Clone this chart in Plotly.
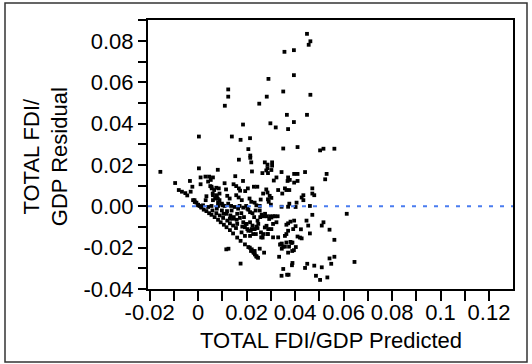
import plotly.graph_objects as go

# Predicted values (x) and residuals (y)
pred = [
    0.0449, 0.0463, 0.0456, 0.0356, 0.0395, 0.0395, 0.0290, 0.0124, 0.0124, 0.0110,
    0.0351, 0.0283, 0.0252, 0.0463, 0.0366, 0.0449,
    0.0185, 0.0298, 0.0320, 0.0371, 0.0395, 0.0003, 0.0139, 0.0175, 0.0214, 0.0207,
    0.0351, 0.0410, 0.0503, 0.0517, 0.0562,
    0.0215, 0.0215, 0.0168, 0.0219, 0.0275, 0.0286, 0.0305, 0.0305, 0.0281, 0.0286,
    0.0302, 0.0265, 0.0288, 0.0222, 0.0344, 0.0371, 0.0369, 0.0323, 0.0312, 0.0153,
    0.0185, 0.0081, 0.0109,
    0.0146, 0.0157, 0.0168, 0.0173, 0.0115, 0.0205, 0.0194, 0.0230, 0.0244, 0.0281,
    0.0286, 0.0268, 0.0295, 0.0302, 0.0288, 0.0291, 0.0300, 0.0258, 0.0330, 0.0347,
    0.0358, 0.0364, 0.0085, 0.0088, 0.0081, 0.0120, 0.0130, 0.0157, 0.0167, 0.0180,
    0.0212, 0.0219, 0.0233, 0.0240, 0.0254, 0.0198, 0.0171, 0.0109, 0.0136, 0.0344,
    0.0371,
    0.0396, 0.0410, 0.0441, 0.0530, 0.0524, 0.0378, 0.0396, 0.0410, 0.0376, 0.0471,
    0.0471, 0.0479, 0.0434, 0.0427, 0.0434, 0.0406, 0.0376, 0.0461, 0.0402,
    0.0003, 0.0010, 0.0061, 0.0052, 0.0041, -0.0034, -0.0095, 0.0010, -0.0024, -0.0080,
    -0.0067, -0.0053, -0.0045, -0.0031, 0.0055, 0.0075, 0.0061, 0.0075, 0.0034, -0.0015,
    -0.0007, 0.0000, 0.0006, 0.0013, 0.0031, 0.0061, 0.0082, 0.0082, -0.0156, 0.0055,
    -0.0021, -0.0014,
    0.0613, 0.0471, 0.0447, 0.0517, 0.0510, 0.0542, 0.0454, 0.0461, 0.0562, 0.0424,
    0.0420, 0.0427, 0.0410, 0.0396, 0.0381, 0.0371, 0.0364, 0.0402, 0.0392, 0.0403,
    0.0388, 0.0395, 0.0381, 0.0389, 0.0371, 0.0334, 0.0389, 0.0387, 0.0450, 0.0441,
    0.0479, 0.0510, 0.0542, 0.0562, 0.0549, 0.0645, 0.0486, 0.0503, 0.0533, 0.0351,
    0.0344, 0.0367, 0.0373,
    0.0237, 0.0254, 0.0262, 0.0276, 0.0270, 0.0283, 0.0297, 0.0310, 0.0293, 0.0302,
    0.0316, 0.0328, 0.0275, 0.0289, 0.0285, 0.0282, 0.0240, 0.0233, 0.0248, 0.0330,
    0.0358, 0.0364, 0.0338, 0.0345, 0.0358, 0.0385, 0.0345, 0.0375,
    0.0254, 0.0272, 0.0233, 0.0240, 0.0247,
    0.0268, 0.0260, 0.0288, 0.0309, 0.0340, 0.0351, 0.0364, 0.0371, 0.0302, 0.0323,
    0.0309,
    0.0000, 0.0013, 0.0023, 0.0034, 0.0045, 0.0055, 0.0068, 0.0082, 0.0093, 0.0106,
    0.0117, 0.0131, 0.0144, 0.0161, 0.0175, 0.0193, 0.0207, 0.0221, 0.0227,
    0.0020, 0.0041, 0.0059, 0.0075, 0.0089, 0.0103, 0.0120, 0.0131, 0.0144, 0.0156,
    0.0125, 0.0175,
    0.0117, 0.0138, 0.0151, 0.0165, 0.0186, 0.0207, 0.0214, 0.0131, 0.0144, 0.0159,
    0.0172, 0.0186, 0.0200, 0.0214, 0.0193, 0.0207, 0.0221, 0.0179, 0.0214, 0.0193,
    0.0227, 0.0100, 0.0124,
    0.0213, 0.0218, 0.0229, 0.0234, 0.0241, 0.0116,
    0.0030, 0.0045, 0.0050, 0.0056, 0.0066, 0.0060, 0.0077, 0.0070, 0.0088, 0.0098,
    0.0077, 0.0098, 0.0105, 0.0119, 0.0133, 0.0147, 0.0161, 0.0178, 0.0189, 0.0203,
    0.0224, 0.0231, 0.0245, 0.0256,
    0.0161, 0.0182, 0.0196, 0.0203, 0.0217, 0.0224, 0.0238, 0.0245, 0.0259, 0.0266,
]
resid = [
    0.0835, 0.0799, 0.0782, 0.0748, 0.0756, 0.0635, 0.0617, 0.0566, 0.0531, 0.0487,
    0.0556, 0.0531, 0.0497, 0.0540, 0.0443, 0.0443,
    0.0396, 0.0402, 0.0382, 0.0374, 0.0408, 0.0338, 0.0338, 0.0322, 0.0330, 0.0277,
    0.0280, 0.0287, 0.0271, 0.0279, 0.0279,
    0.0246, 0.0235, 0.0226, 0.0213, 0.0213, 0.0202, 0.0213, 0.0197, 0.0174, 0.0185,
    0.0176, 0.0161, 0.0161, 0.0169, 0.0166, 0.0140, 0.0123, 0.0140, 0.0125, 0.0146,
    0.0123, 0.0177, 0.0112,
    0.0107, 0.0098, 0.0087, 0.0076, 0.0082, 0.0087, 0.0074, 0.0095, 0.0095, 0.0082,
    0.0067, 0.0062, 0.0051, 0.0041, 0.0034, 0.0022, 0.0008, 0.0033, 0.0079, 0.0062,
    0.0087, 0.0079, 0.0087, 0.0062, 0.0037, 0.0051, 0.0038, 0.0054, 0.0043, 0.0030,
    0.0038, 0.0022, 0.0018, 0.0005, 0.0002, 0.0002, 0.0002, 0.0002, 0.0002, -0.0002,
    -0.0002,
    0.0157, 0.0157, 0.0166, 0.0157, 0.0131, 0.0128, 0.0115, 0.0123, 0.0079, 0.0087,
    0.0062, 0.0054, 0.0054, 0.0043, 0.0030, 0.0018, 0.0013, 0.0002, -0.0003,
    0.0184, 0.0140, 0.0140, 0.0128, 0.0120, 0.0123, 0.0113, 0.0107, 0.0095, 0.0079,
    0.0071, 0.0064, 0.0053, 0.0071, 0.0095, 0.0090, 0.0054, 0.0043, 0.0049, 0.0030,
    0.0018, 0.0008, 0.0002, -0.0003, 0.0030, 0.0030, 0.0018, 0.0002, 0.0167, 0.0002,
    0.0030, 0.0021,
    -0.0036, -0.0041, -0.0069, -0.0077, -0.0093, -0.0113, -0.0093, -0.0131, -0.0162, -0.0111,
    -0.0151, -0.0155, -0.0146, -0.0069, -0.0074, -0.0082, -0.0089, -0.0096, -0.0110, -0.0197,
    -0.0216, -0.0212, -0.0172, -0.0175, -0.0224, -0.0244, -0.0274, -0.0285, -0.0278, -0.0298,
    -0.0287, -0.0295, -0.0252, -0.0244, -0.0278, -0.0269, -0.0336, -0.0356, -0.0344, -0.0303,
    -0.0336, -0.0331, -0.0331,
    -0.0020, -0.0020, -0.0040, -0.0036, -0.0048, -0.0048, -0.0048, -0.0048, -0.0061, -0.0054,
    -0.0048, -0.0048, -0.0102, -0.0110, -0.0134, -0.0094, -0.0098, -0.0110, -0.0085, -0.0150,
    -0.0143, -0.0134, -0.0185, -0.0180, -0.0195, -0.0177, -0.0205, -0.0195,
    -0.0205, -0.0224, -0.0216, -0.0241, -0.0249,
    -0.0134, -0.0150, -0.0134, -0.0150, -0.0184, -0.0195, -0.0175, -0.0118, -0.0110, -0.0077,
    -0.0085,
    0.0005, -0.0006, -0.0016, -0.0023, -0.0033, -0.0041, -0.0052, -0.0065, -0.0077, -0.0089,
    -0.0101, -0.0115, -0.0131, -0.0151, -0.0167, -0.0184, -0.0197, -0.0208, -0.0219,
    0.0005, -0.0003, -0.0020, -0.0033, -0.0044, -0.0056, -0.0069, -0.0082, -0.0093, -0.0105,
    -0.0205, -0.0277,
    -0.0036, -0.0020, -0.0003, -0.0011, -0.0006, -0.0016, -0.0028, -0.0060, -0.0060, -0.0065,
    -0.0056, -0.0077, -0.0085, -0.0077, -0.0101, -0.0118, -0.0110, -0.0126, -0.0143, -0.0143,
    -0.0134, 0.0005, 0.0013,
    -0.0200, -0.0216, -0.0225, -0.0233, -0.0244, -0.0208,
    0.0144, 0.0144, 0.0098, 0.0087, 0.0079, 0.0062, 0.0054, 0.0038, 0.0030, 0.0013,
    -0.0011, -0.0020, -0.0036, -0.0023, -0.0044, -0.0052, -0.0036, -0.0033, -0.0052, -0.0011,
    -0.0033, -0.0052, -0.0069, -0.0052,
    -0.0085, -0.0098, -0.0085, -0.0110, -0.0118, -0.0093, -0.0134, -0.0105, -0.0126, -0.0151,
]

x_tickvals = [-0.02, 0, 0.02, 0.04, 0.06, 0.08, 0.1, 0.12]
x_ticktext = ["-0.02", "0", "0.02", "0.04", "0.06", "0.08", "0.1", "0.12"]
y_tickvals = [-0.04, -0.02, 0.0, 0.02, 0.04, 0.06, 0.08]
y_ticktext = ["-0.04", "-0.02", "0.00", "0.02", "0.04", "0.06", "0.08"]

FONT = "Liberation Sans, Arial, sans-serif"

fig = go.Figure()
fig.add_trace(go.Scatter(
    x=pred, y=resid, mode="markers",
    marker=dict(symbol="square", size=3.8, color="black", line=dict(width=0)),
    hoverinfo="skip", showlegend=False,
))

# zero reference line
fig.add_shape(type="line", xref="paper", yref="y", x0=0, x1=1, y0=0, y1=0,
              line=dict(color="#4a7cf0", width=2, dash="4px,7px"))

# outer frame
fig.add_shape(type="rect", xref="paper", yref="paper",
              x0=(5 - 148) / 365, x1=(527 - 148) / 365,
              y0=(289 - 362) / 269, y1=(289 - 3) / 269,
              line=dict(color="#333", width=1.5), layer="below")

fig.add_annotation(text="TOTAL FDI/<br>GDP Residual", xref="paper", yref="paper",
                   x=(46 - 148) / 365, y=0.49, textangle=-90, showarrow=False,
                   xanchor="center", yanchor="middle",
                   font=dict(family=FONT, size=22, color="black"))
fig.add_annotation(text="TOTAL FDI/GDP Predicted", xref="paper", yref="paper",
                   x=0.5, y=(289 - 340) / 269, showarrow=False,
                   xanchor="center", yanchor="middle",
                   font=dict(family=FONT, size=22, color="black"))

axis_common = dict(showgrid=False, zeroline=False, showline=True, linecolor="black",
                   linewidth=2, mirror=True, ticks="outside", tickcolor="black",
                   tickwidth=2, tickfont=dict(family=FONT, size=22, color="black"))

fig.update_xaxes(range=[-0.0207, 0.1299], tickvals=x_tickvals, ticktext=x_ticktext,
                 ticklen=10, ticklabelstandoff=-7,
                 minor=dict(dtick=0.01, tick0=0, ticks="outside", ticklen=10,
                            tickwidth=2, tickcolor="black"),
                 **axis_common)
fig.update_yaxes(range=[-0.04, 0.0902], tickvals=y_tickvals, ticktext=y_ticktext,
                 ticklen=8,
                 minor=dict(dtick=0.01, tick0=0, ticks="outside", ticklen=8,
                            tickwidth=2, tickcolor="black"),
                 **axis_common)

fig.update_layout(width=532, height=364, margin=dict(l=148, r=19, t=20, b=75),
                  paper_bgcolor="white", plot_bgcolor="white",
                  font=dict(family=FONT, color="black"))

fig.write_html("out.html")
